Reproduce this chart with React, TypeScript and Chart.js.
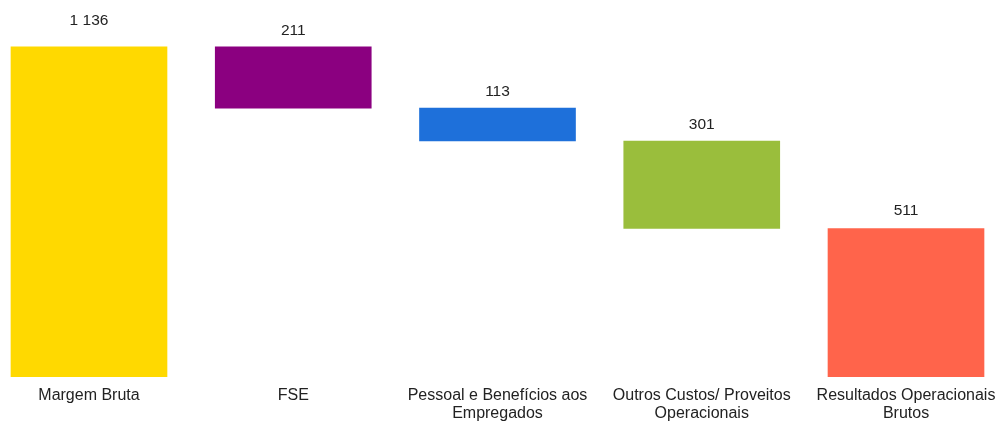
import React, { useEffect, useRef } from "react";
import { Chart, registerables } from "chart.js";

Chart.register(...registerables);

const categories: string[][] = [
  ["Margem Bruta"],
  ["FSE"],
  ["Pessoal e Benefícios aos", "Empregados"],
  ["Outros Custos/ Proveitos", "Operacionais"],
  ["Resultados Operacionais", "Brutos"],
];
// Margem Bruta (total), three deductions, result (total)
const values: number[] = [1136, 211, 113, 301, 511];
const isTotal: boolean[] = [true, false, false, false, true];
const valueLabels: string[] = ["1 136", "211", "113", "301", "511"];
const colors: string[] = ["#FFD900", "#8B0080", "#1E70DA", "#9ABE3C", "#FF644B"];

export default function App() {
  const ref = useRef<HTMLCanvasElement | null>(null);

  useEffect(() => {
    if (!ref.current) return;
    const ranges: [number, number][] = [];
    let level = 0;
    values.forEach((v, i) => {
      if (isTotal[i]) {
        ranges.push([0, v]);
        level = v;
      } else {
        ranges.push([level - v, level]);
        level = level - v;
      }
    });
    const data = ranges.map((r, i) => ({ x: i, y: r }));

    const labelOffsets = [22, 12, 12, 12, 13];

    const labelPlugin = {
      id: "valueLabels",
      afterDatasetsDraw(chart: any) {
        const ctx = chart.ctx;
        const meta = chart.getDatasetMeta(0);
        ctx.save();
        ctx.font = "15.5px 'Liberation Sans', Arial, sans-serif";
        ctx.fillStyle = "#222222";
        ctx.textAlign = "center";
        ctx.textBaseline = "alphabetic";
        meta.data.forEach((el: any, i: number) => {
          const top = Math.min(el.y, el.base);
          ctx.fillText(valueLabels[i], el.x, top - labelOffsets[i]);
        });
        ctx.restore();
      },
    };

    const chart = new Chart(ref.current, {
      type: "bar",
      data: {
        datasets: [
          {
            data: data as any,
            backgroundColor: colors,
            borderWidth: 0,
            barThickness: 156,
          },
        ],
      },
      options: {
        animation: false,
        responsive: false,
        maintainAspectRatio: false,
        parsing: { xAxisKey: "x", yAxisKey: "y" } as any,
        layout: { padding: 0 },
        plugins: {
          legend: { display: false },
          tooltip: { enabled: false },
        },
        scales: {
          x: {
            type: "linear",
            offset: false,
            min: -0.4357,
            max: 4.4455,
            grid: { display: false, drawTicks: false },
            border: { display: false },
            afterBuildTicks: (axis: any) => {
              axis.ticks = [0, 1, 2, 3, 4].map((v) => ({ value: v }));
            },
            afterFit: (axis: any) => {
              axis.height = 44;
              axis.paddingLeft = 0;
              axis.paddingRight = 0;
            },
            ticks: {
              autoSkip: false,
              maxRotation: 0,
              minRotation: 0,
              padding: 10,
              color: "#222222",
              font: { family: "'Liberation Sans', Arial, sans-serif", size: 16, lineHeight: 1.1 },
              callback: (v: any) => {
                const i = Math.round(Number(v));
                return categories[i] || "";
              },
            },
          },
          y: {
            display: false,
            min: 0,
            max: 1297,
          },
        },
      },
      plugins: [labelPlugin],
    });
    return () => chart.destroy();
  }, []);

  return (
    <div style={{ position: "fixed", left: 0, top: 0, width: 997, height: 421, background: "#fff" }}>
      <canvas ref={ref} width={997} height={421} style={{ width: 997, height: 421 }} />
    </div>
  );
}
